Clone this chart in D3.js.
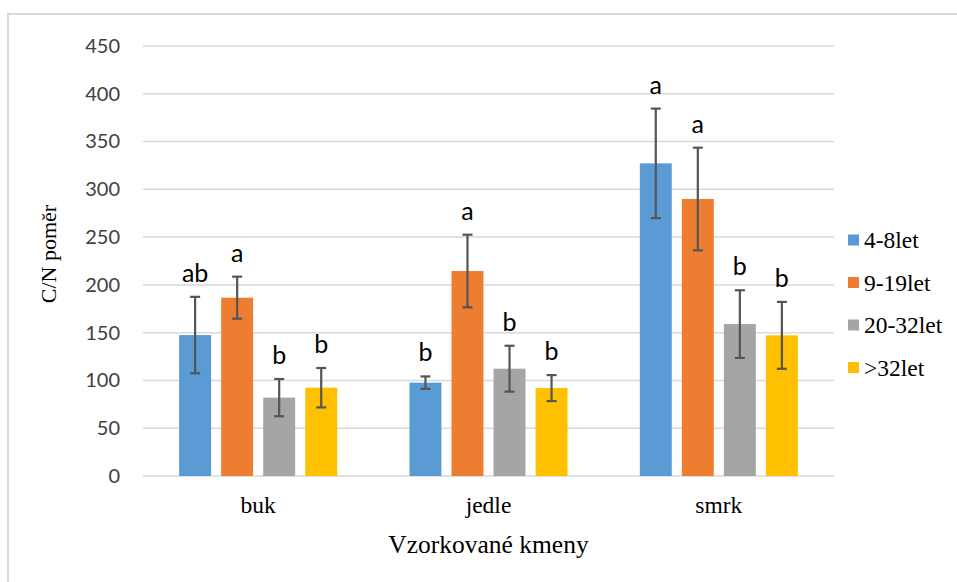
<!DOCTYPE html>
<html>
<head>
<meta charset="utf-8">
<script src="https://cdn.jsdelivr.net/npm/d3@7"></script>
<style>
  body { margin: 0; background: #fff; }
</style>
</head>
<body>
<div id="container"></div>
<script>
// data
const categories = ["buk", "jedle", "smrk"];
const series = ["4-8let", "9-19let", "20-32let", ">32let"];
const means = [
    [147.5, 97.7, 327.2],   // 4-8let
    [186.6, 214.5, 289.9],  // 9-19let
    [82, 112.3, 159],       // 20-32let
    [92.4, 92, 147.2]       // >32let
];
const errors = [
    [40, 6.5, 57.3],
    [22, 38, 53.7],
    [19.5, 24, 35.4],
    [20.6, 13.6, 35]
];
const letters = [
    ["ab", "b", "a"],
    ["a", "a", "a"],
    ["b", "b", "b"],
    ["b", "b", "b"]
];
const yTicks = [0, 50, 100, 150, 200, 250, 300, 350, 400, 450];
const colors = ["#5B9BD5", "#ED7D31", "#A5A5A5", "#FFC000"];

const width = 957, height = 582;
const plotLeft = 143, plotRight = 834, plotTop = 46, plotBottom = 476;
const serif = "Liberation Serif, Times New Roman, serif";
const sans = "Lato, Open Sans, sans-serif";

// une ligne par barre
const rows = [];
series.forEach((s, i) => {
    categories.forEach((c, j) => {
        rows.push({serie: s, cat: c, i: i, value: means[i][j], err: errors[i][j], letter: letters[i][j]});
    });
});

const svg = d3.select("#container").append("svg")
    .attr("width", width)
    .attr("height", height);

// cadre du graphique
svg.append("rect")
    .attr("x", 8).attr("y", 14)
    .attr("width", 1200).attr("height", 1200)
    .attr("fill", "none")
    .attr("stroke", "#d9d9d9")
    .attr("stroke-width", 2);

const x0 = d3.scaleBand().domain(categories).range([plotLeft, plotRight]);
const x1 = d3.scaleBand().domain(series).range([0, x0.bandwidth()])
    .paddingInner(0.24).paddingOuter(0.86);
const y = d3.scaleLinear().domain([0, 450]).range([plotBottom, plotTop]);
const color = d3.scaleOrdinal(series, colors);

// grille
svg.append("g")
    .selectAll("line")
    .data(yTicks)
    .join("line")
    .attr("x1", plotLeft).attr("x2", plotRight)
    .attr("y1", d => y(d)).attr("y2", d => y(d))
    .attr("stroke", "#d9d9d9")
    .attr("stroke-width", 1.5);

// axe y
const yAxis = svg.append("g")
    .attr("transform", `translate(${plotLeft - 23},0)`)
    .call(d3.axisLeft(y).tickValues(yTicks).tickSize(0).tickPadding(0));
yAxis.select(".domain").remove();
yAxis.selectAll("text")
    .attr("font-family", sans)
    .attr("font-size", 20)
    .attr("fill", "#404040");

// barres
svg.append("g")
    .selectAll("rect")
    .data(rows)
    .join("rect")
    .attr("x", d => x0(d.cat) + x1(d.serie))
    .attr("y", d => y(d.value))
    .attr("width", x1.bandwidth())
    .attr("height", d => y(0) - y(d.value))
    .attr("fill", d => color(d.serie));

// barres d'erreur
const eb = svg.append("g")
    .attr("stroke", "#555")
    .attr("stroke-width", 2.2)
    .selectAll("g")
    .data(rows)
    .join("g")
    .attr("transform", d => `translate(${x0(d.cat) + x1(d.serie) + x1.bandwidth() / 2},0)`);
eb.append("line")
    .attr("y1", d => y(d.value + d.err))
    .attr("y2", d => y(d.value - d.err));
eb.append("line")
    .attr("x1", -5).attr("x2", 5)
    .attr("y1", d => y(d.value + d.err))
    .attr("y2", d => y(d.value + d.err));
eb.append("line")
    .attr("x1", -5).attr("x2", 5)
    .attr("y1", d => y(d.value - d.err))
    .attr("y2", d => y(d.value - d.err));

// lettres de signification
svg.append("g")
    .selectAll("text")
    .data(rows)
    .join("text")
    .attr("x", d => x0(d.cat) + x1(d.serie) + x1.bandwidth() / 2)
    .attr("y", d => y(d.value + d.err) - 15)
    .attr("text-anchor", "middle")
    .attr("font-family", sans)
    .attr("font-size", 25)
    .attr("fill", "#000")
    .text(d => d.letter);

// noms des catégories
svg.append("g")
    .selectAll("text")
    .data(categories)
    .join("text")
    .attr("x", d => x0(d) + x0.bandwidth() / 2)
    .attr("y", 513)
    .attr("text-anchor", "middle")
    .attr("font-family", serif)
    .attr("font-size", 23.5)
    .attr("fill", "#000")
    .text(d => d);

// titres des axes
svg.append("text")
    .attr("x", (plotLeft + plotRight) / 2)
    .attr("y", 553)
    .attr("text-anchor", "middle")
    .attr("font-family", serif)
    .attr("font-size", 25.5)
    .text("Vzorkované kmeny");

svg.append("text")
    .attr("transform", "translate(56,254) rotate(-90)")
    .attr("text-anchor", "middle")
    .attr("font-family", serif)
    .attr("font-size", 22)
    .text("C/N poměr");

// légende
const legend = svg.append("g")
    .selectAll("g")
    .data(series)
    .join("g")
    .attr("transform", (d, i) => `translate(848,${240 + i * 42.5})`);
legend.append("rect")
    .attr("x", 0).attr("y", -5.5)
    .attr("width", 11).attr("height", 11)
    .attr("fill", d => color(d));
legend.append("text")
    .attr("x", 16)
    .attr("y", 8)
    .attr("font-family", serif)
    .attr("font-size", 23.5)
    .attr("fill", "#000")
    .text(d => d);
</script>
</body>
</html>
